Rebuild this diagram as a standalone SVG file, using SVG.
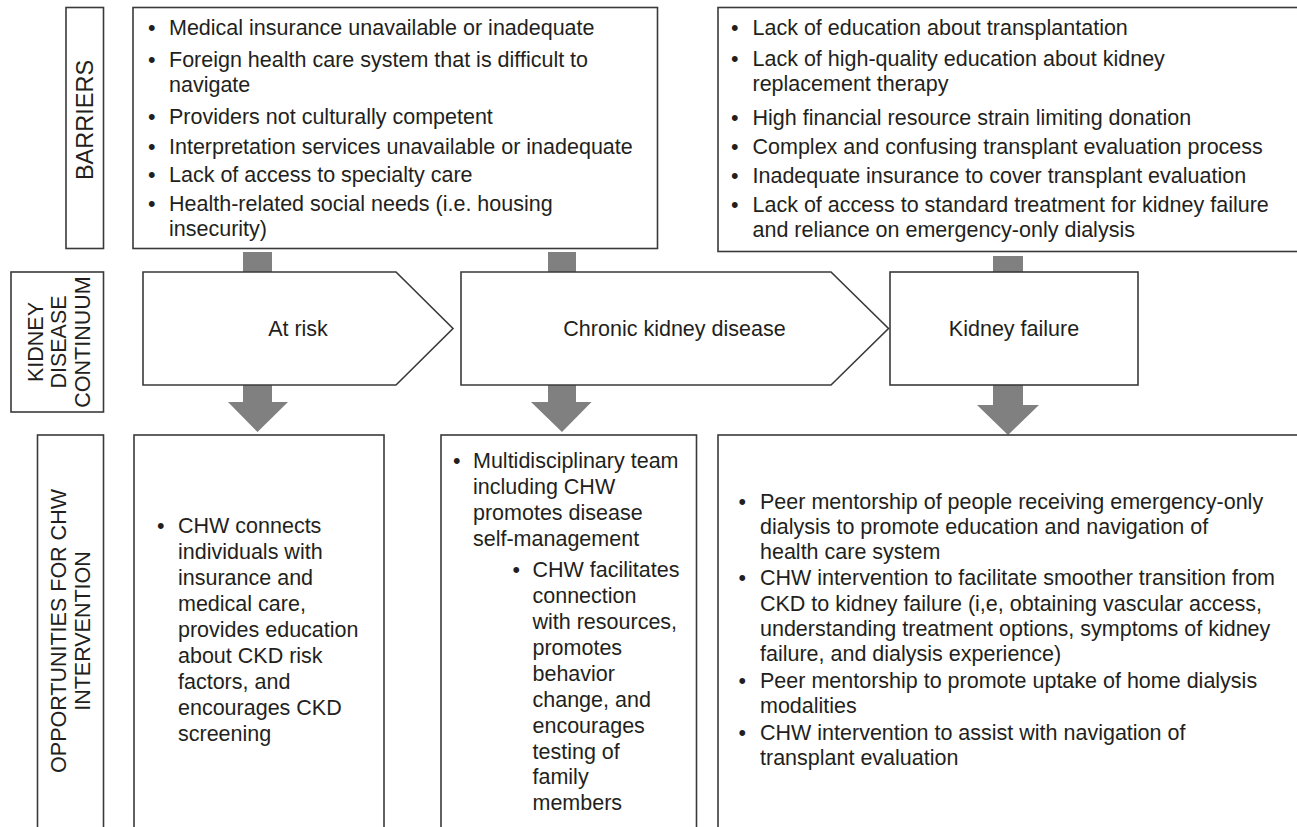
<svg xmlns="http://www.w3.org/2000/svg" width="1297" height="827" viewBox="0 0 1297 827">
<style>
.box{fill:#fff;stroke:#3a3a3a;stroke-width:1.6}
.gray{fill:#808080}
text{font-family:"Liberation Sans",Arial,sans-serif;fill:#231f20}
.t{font-size:21.5px}
.lbl{font-size:21.5px;text-anchor:middle}
.mid{text-anchor:middle}
</style>
<rect width="1297" height="827" fill="#fff"/>
<g id="connectors">
<rect class="gray" x="243" y="252" width="29" height="21"/>
<rect class="gray" x="548" y="252" width="28" height="21"/>
<rect class="gray" x="993" y="256" width="30" height="17"/>
<polygon class="gray" points="243,385 272,385 272,402 288,402 257.5,432 228,402 243,402"/>
<polygon class="gray" points="548,385 576,385 576,402 591.5,402 562,432 531,402 548,402"/>
<polygon class="gray" points="993,385 1023,385 1023,405 1039,405 1008,435 977,405 993,405"/>
</g>
<g id="label-barriers">
<rect class="box" x="66" y="7.5" width="37.5" height="241"/>
<text class="lbl" style="font-size:23.5px" transform="translate(85,120) rotate(-90)" y="8.4">BARRIERS</text>
</g>
<g id="label-continuum">
<rect class="box" x="11" y="272" width="92.5" height="140"/>
<text class="lbl" transform="translate(35.5,342) rotate(-90)" y="7.7">KIDNEY</text>
<text class="lbl" transform="translate(58.5,342) rotate(-90)" y="7.7">DISEASE</text>
<text class="lbl" transform="translate(82.5,342) rotate(-90)" y="7.7">CONTINUUM</text>
</g>
<g id="label-opportunities">
<rect class="box" x="37.5" y="435" width="66" height="400"/>
<text class="lbl" transform="translate(58.5,631) rotate(-90)" y="7.7">OPPORTUNITIES FOR CHW</text>
<text class="lbl" transform="translate(82.5,631) rotate(-90)" y="7.7">INTERVENTION</text>
</g>
<g id="barriers-1">
<rect class="box" x="133" y="7.5" width="524.5" height="241"/>
<g class="t">
<text x="148" y="35">•</text><text x="169" y="35">Medical insurance unavailable or inadequate</text>
<text x="148" y="67">•</text><text x="169" y="67">Foreign health care system that is difficult to</text>
<text x="169" y="92">navigate</text>
<text x="148" y="124">•</text><text x="169" y="124">Providers not culturally competent</text>
<text x="148" y="154">•</text><text x="169" y="154">Interpretation services unavailable or inadequate</text>
<text x="148" y="182">•</text><text x="169" y="182">Lack of access to specialty care</text>
<text x="148" y="211">•</text><text x="169" y="211">Health-related social needs (i.e. housing</text>
<text x="169" y="236">insecurity)</text>
</g>
</g>
<g id="barriers-2">
<rect class="box" x="718" y="7.5" width="600" height="244"/>
<g class="t">
<text x="731" y="35">•</text><text x="752.5" y="35">Lack of education about transplantation</text>
<text x="731" y="66">•</text><text x="752.5" y="66">Lack of high-quality education about kidney</text>
<text x="752.5" y="91">replacement therapy</text>
<text x="731" y="125">•</text><text x="752.5" y="125">High financial resource strain limiting donation</text>
<text x="731" y="154">•</text><text x="752.5" y="154">Complex and confusing transplant evaluation process</text>
<text x="731" y="183">•</text><text x="752.5" y="183">Inadequate insurance to cover transplant evaluation</text>
<text x="731" y="212">•</text><text x="752.5" y="212">Lack of access to standard treatment for kidney failure</text>
<text x="752.5" y="237">and reliance on emergency-only dialysis</text>
</g>
</g>
<g id="stage-at-risk">
<path class="box" d="M143,272 H396 L453,328.5 L396,385 H143 Z"/>
<text class="t mid" x="298" y="336">At risk</text>
</g>
<g id="stage-ckd">
<path class="box" d="M461,272 H831 L888.5,328.5 L831,385 H461 Z"/>
<text class="t mid" x="674.5" y="336">Chronic kidney disease</text>
</g>
<g id="stage-kidney-failure">
<rect class="box" x="890" y="272" width="248" height="113"/>
<text class="t mid" x="1014" y="336">Kidney failure</text>
</g>
<g id="opportunity-1">
<rect class="box" x="134" y="435" width="250" height="400"/>
<g class="t">
<text x="157" y="533">•</text><text x="178" y="533">CHW connects</text>
<text x="178" y="559">individuals with</text>
<text x="178" y="585">insurance and</text>
<text x="178" y="611">medical care,</text>
<text x="178" y="637">provides education</text>
<text x="178" y="663">about CKD risk</text>
<text x="178" y="689">factors, and</text>
<text x="178" y="715">encourages CKD</text>
<text x="178" y="741">screening</text>
</g>
</g>
<g id="opportunity-2">
<rect class="box" x="441" y="435" width="255.5" height="400"/>
<g class="t">
<text x="453" y="468">•</text><text x="473" y="468">Multidisciplinary team</text>
<text x="473" y="494">including CHW</text>
<text x="473" y="520">promotes disease</text>
<text x="473" y="546">self-management</text>
<text x="512.5" y="577">•</text><text x="532.5" y="577">CHW facilitates</text>
<text x="532.5" y="603">connection</text>
<text x="532.5" y="629">with resources,</text>
<text x="532.5" y="655">promotes</text>
<text x="532.5" y="681">behavior</text>
<text x="532.5" y="707">change, and</text>
<text x="532.5" y="733">encourages</text>
<text x="532.5" y="759">testing of</text>
<text x="532.5" y="784">family</text>
<text x="532.5" y="810">members</text>
</g>
</g>
<g id="opportunity-3">
<rect class="box" x="718" y="435" width="600" height="400"/>
<g class="t">
<text x="738.5" y="508.5">•</text><text x="760" y="508.5">Peer mentorship of people receiving emergency-only</text>
<text x="760" y="534">dialysis to promote education and navigation of</text>
<text x="760" y="558.5">health care system</text>
<text x="738.5" y="584.5">•</text><text x="760" y="584.5">CHW intervention to facilitate smoother transition from</text>
<text x="760" y="610.5">CKD to kidney failure (i,e, obtaining vascular access,</text>
<text x="760" y="635.5">understanding treatment options, symptoms of kidney</text>
<text x="760" y="660.5">failure, and dialysis experience)</text>
<text x="738.5" y="687.5">•</text><text x="760" y="687.5">Peer mentorship to promote uptake of home dialysis</text>
<text x="760" y="712.5">modalities</text>
<text x="738.5" y="739.5">•</text><text x="760" y="739.5">CHW intervention to assist with navigation of</text>
<text x="760" y="764.5">transplant evaluation</text>
</g>
</g>
</svg>
